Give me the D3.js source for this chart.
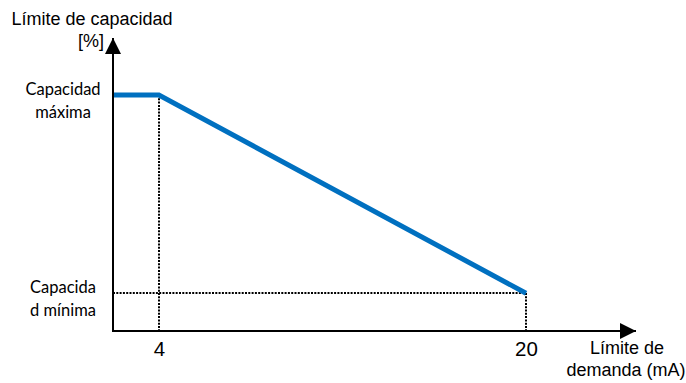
<!DOCTYPE html>
<html>
<head>
<meta charset="utf-8">
<script src="https://cdn.jsdelivr.net/npm/d3@7"></script>
<style>
  html, body { margin: 0; padding: 0; background: #fff; }
  svg { display: block; }
</style>
</head>
<body>
<svg id="chart" width="686" height="383"></svg>
<script>
// Demand signal (mA) and the resulting capacity limit (%)
const demand = [2, 4, 20];
const capacity = [100, 100, 16];
const xTickValues = [4, 20];
const xTickLabels = ["4", "20"];
const yTickValues = [100, 16];
const yTickLabels = [["Capacidad", "máxima"], ["Capacida", "d mínima"]];
const yTitle = ["Límite de capacidad", "[%]"];
const xTitle = ["Límite de", "demanda (mA)"];

const svg = d3.select("#chart");

const x = d3.scaleLinear().domain([2, 20]).range([113, 526]);
const y = d3.scaleLinear().domain([0, 100]).range([331, 95]);
const x0 = x(2), y0 = y(0);
const rx = v => Math.round(x(v));
const ry = v => Math.round(y(v));

const points = demand.map((d, i) => ({ d, c: capacity[i] }));

// Arrow heads
const defs = svg.append("defs");
defs.append("marker")
  .attr("id", "arrow")
  .attr("viewBox", "0 0 10 10")
  .attr("refX", 10).attr("refY", 5)
  .attr("markerUnits", "userSpaceOnUse")
  .attr("markerWidth", 17).attr("markerHeight", 16)
  .attr("orient", "auto")
  .append("path").attr("d", "M0,0 L10,5 L0,10 Z").attr("fill", "#000");

// Dotted guide lines
const guides = svg.append("g")
  .attr("stroke", "#000").attr("stroke-width", 2)
  .attr("stroke-dasharray", "2 1.3").attr("fill", "none");
guides.append("line").attr("x1", rx(demand[1])).attr("x2", rx(demand[1]))
  .attr("y1", ry(capacity[1])).attr("y2", y0);
guides.append("line").attr("x1", x0).attr("x2", rx(demand[2]))
  .attr("y1", ry(capacity[2])).attr("y2", ry(capacity[2]));
guides.append("line").attr("x1", rx(demand[2])).attr("x2", rx(demand[2]))
  .attr("y1", ry(capacity[2])).attr("y2", y0);

// Capacity limit curve
svg.append("path")
  .datum(points)
  .attr("fill", "none")
  .attr("stroke", "#0070C0")
  .attr("stroke-width", 5)
  .attr("d", d3.line().x(p => x(p.d)).y(p => y(p.c)));

// Axes with arrows
svg.append("line")
  .attr("x1", x0).attr("y1", y0).attr("x2", x0).attr("y2", 38)
  .attr("stroke", "#000").attr("stroke-width", 2)
  .attr("marker-end", "url(#arrow)");
svg.append("line")
  .attr("x1", x0 - 1).attr("y1", y0).attr("x2", 636).attr("y2", y0)
  .attr("stroke", "#000").attr("stroke-width", 2)
  .attr("marker-end", "url(#arrow)");

const titleFont = "'Liberation Sans', Arial, sans-serif";

// X tick labels
const xAxis = d3.axisBottom(x)
  .tickValues(xTickValues)
  .tickSize(0)
  .tickPadding(10)
  .tickFormat((d, i) => xTickLabels[i]);
const gx = svg.append("g").attr("transform", `translate(0,${y0})`).call(xAxis);
gx.attr("font-family", titleFont).attr("font-size", 20.5);
gx.select(".domain").remove();
gx.selectAll("text").attr("fill", "#000");

// Y tick labels (two lines, centred)
const yAxis = d3.axisLeft(y).tickValues(yTickValues).tickSize(0).tickFormat("");
const gy = svg.append("g").attr("transform", `translate(${x0},0)`).call(yAxis);
gy.attr("font-family", "Lato, 'Noto Sans', sans-serif").attr("font-size", 16.5);
gy.select(".domain").remove();
gy.selectAll(".tick").each(function (d, i) {
  const t = d3.select(this).append("text")
    .attr("x", 63 - x0)
    .attr("text-anchor", "middle")
    .attr("fill", "#000");
  yTickLabels[i].forEach((line, k) => {
    t.append("tspan").attr("x", 63 - x0)
      .attr("y", k === 0 ? -1 : 22)
      .text(line);
  });
});

// Axis titles
const titles = svg.append("g")
  .attr("font-family", titleFont).attr("font-size", 18)
  .attr("text-anchor", "middle").attr("fill", "#000");
titles.append("text").attr("x", 92).attr("y", 25).text(yTitle[0]);
titles.append("text").attr("x", 91).attr("y", 47).text(yTitle[1]);
titles.append("text").attr("x", 627).attr("y", 354).text(xTitle[0]);
titles.append("text").attr("x", 626).attr("y", 376).text(xTitle[1]);
</script>
</body>
</html>
